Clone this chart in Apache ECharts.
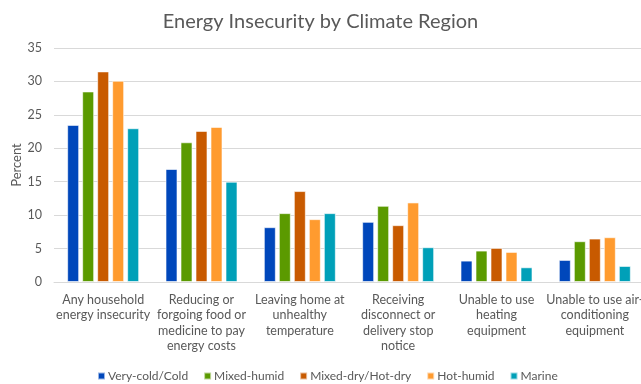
<!DOCTYPE html>
<html>
<head>
<meta charset="utf-8">
<script src="https://cdn.jsdelivr.net/npm/echarts@6/dist/echarts.min.js"></script>
<style>
  html, body { margin: 0; padding: 0; background: #fff; }
  #chart { width: 641px; height: 384px; }
</style>
</head>
<body>
<div id="chart"></div>
<script>
// Survey categories (x axis)
const categories = [
  'Any household\nenergy insecurity',
  'Reducing or\nforgoing food or\nmedicine to pay\nenergy costs',
  'Leaving home at\nunhealthy\ntemperature',
  'Receiving\ndisconnect or\ndelivery stop\nnotice',
  'Unable to use\nheating\nequipment',
  'Unable to use air-\nconditioning\nequipment'
];

// Percent of households, by climate region
const veryColdCold    = [23.5, 16.9, 8.2, 9.0, 3.2, 3.3];
const mixedHumid      = [28.5, 20.9, 10.3, 11.4, 4.7, 6.1];
const mixedDryHotDry  = [31.5, 22.6, 13.6, 8.5, 5.1, 6.5];
const hotHumid        = [30.1, 23.2, 9.4, 11.9, 4.5, 6.7];
const marine          = [23.0, 15.0, 10.3, 5.2, 2.2, 2.4];

const yTicks = { min: 0, max: 35, interval: 5 };

const seriesDefs = [
  { name: 'Very-cold/Cold',     data: veryColdCold,   color: '#0047BB' },
  { name: 'Mixed-humid',        data: mixedHumid,     color: '#5B9A00' },
  { name: 'Mixed-dry/Hot-dry',  data: mixedDryHotDry, color: '#C85A00' },
  { name: 'Hot-humid',          data: hotHumid,       color: '#FF9B2F' },
  { name: 'Marine',             data: marine,         color: '#00A0B8' }
];

const font = 'Lato, "Open Sans", sans-serif';
const textColor = '#595959';

const chart = echarts.init(document.getElementById('chart'), null, { renderer: 'canvas' });
chart.setOption({
  animation: false,
  textStyle: { fontFamily: font },
  title: {
    text: 'Energy Insecurity by Climate Region',
    left: 'center',
    top: 7,
    textStyle: { fontFamily: font, fontSize: 20, fontWeight: 'normal', color: textColor }
  },
  legend: {
    bottom: 2,
    left: 97,
    padding: 0,
    itemWidth: 7,
    itemHeight: 7,
    itemGap: 15,
    icon: 'rect',
    textStyle: { fontFamily: font, fontSize: 12, color: textColor, padding: [0, 0, 0, -2] },
    data: seriesDefs.map(s => s.name)
  },
  grid: {
    left: 54, top: 48, width: 590, height: 234,
    containLabel: false,
    outerBoundsMode: 'none'
  },
  xAxis: {
    type: 'category',
    data: categories,
    axisTick: { show: false },
    axisLine: { lineStyle: { color: '#D9D9D9', width: 1 } },
    axisLabel: {
      interval: 0,
      margin: 10,
      fontFamily: font,
      fontSize: 12.5,
      lineHeight: 15.5,
      color: textColor
    }
  },
  yAxis: {
    type: 'value',
    min: yTicks.min,
    max: yTicks.max,
    interval: yTicks.interval,
    name: 'Percent',
    nameLocation: 'middle',
    nameGap: 31,
    nameMoveOverlap: false,
    nameTextStyle: { fontFamily: font, fontSize: 13, color: textColor },
    axisLine: { show: false },
    axisTick: { show: false },
    axisLabel: { fontFamily: font, fontSize: 12.5, color: textColor, margin: 12 },
    splitLine: { lineStyle: { color: '#D9D9D9', width: 1 } }
  },
  series: seriesDefs.map(s => ({
    name: s.name,
    type: 'bar',
    data: s.data,
    barWidth: 12,
    barGap: '25%',
    itemStyle: { color: s.color, borderColor: 'rgba(255,255,255,0.6)', borderWidth: 1 }
  }))
});
</script>
</body>
</html>
